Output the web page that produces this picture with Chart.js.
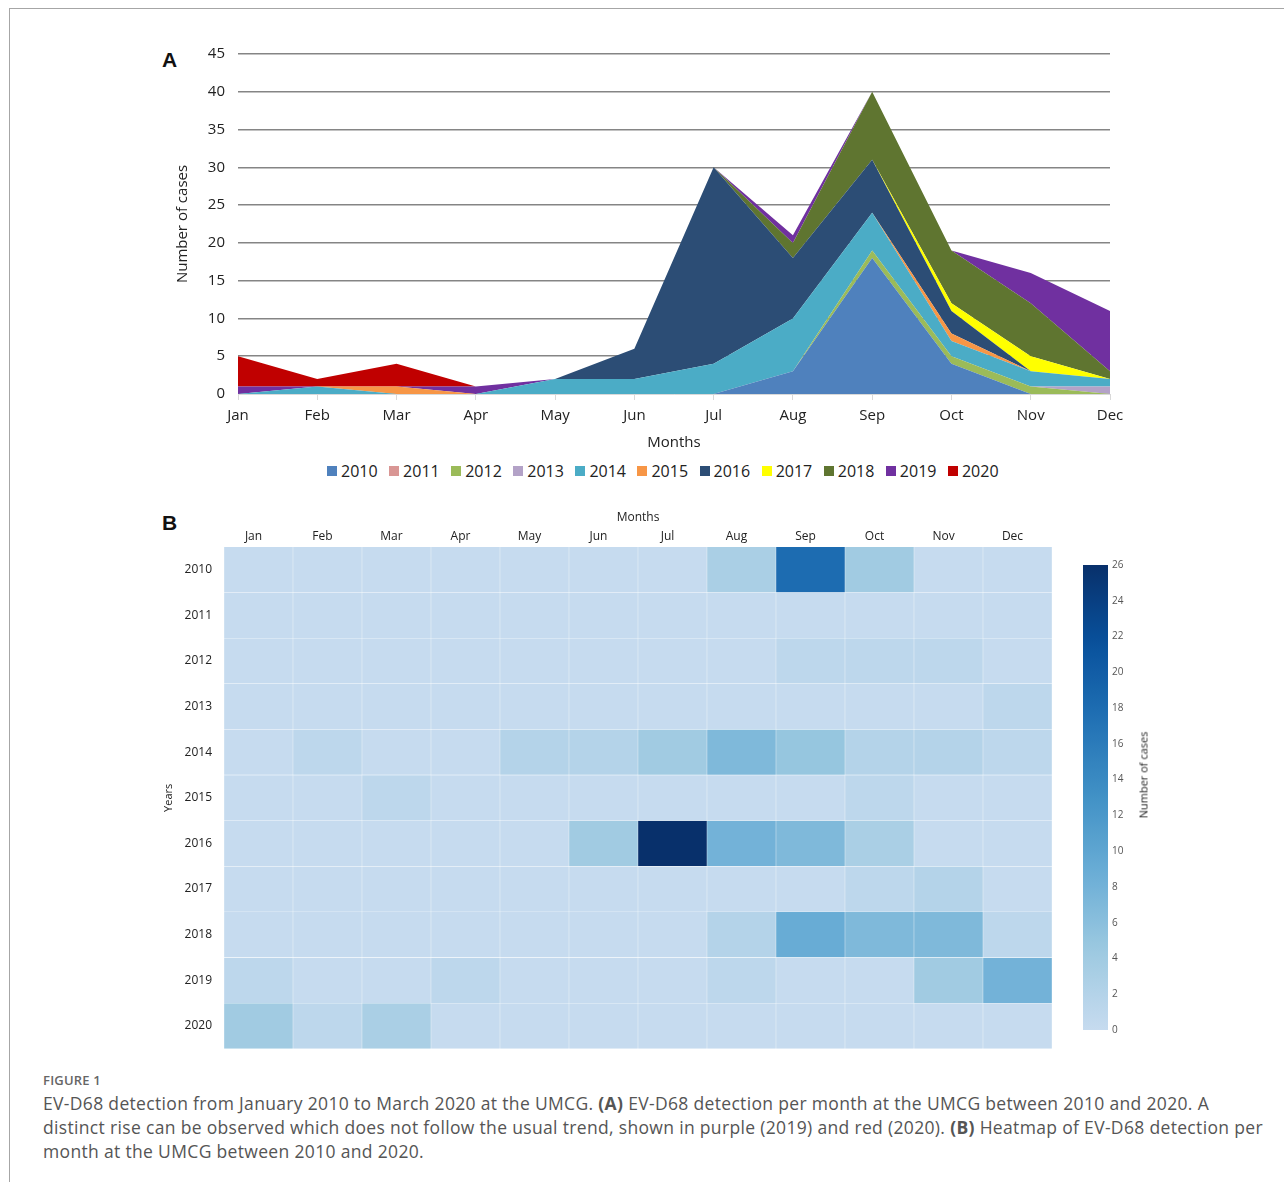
<!DOCTYPE html>
<html>
<head>
<meta charset="utf-8">
<script src="https://cdn.jsdelivr.net/npm/chart.js@4.4.1/dist/chart.umd.min.js"></script>
<style>
  html, body { margin: 0; padding: 0; background: #fff; }
  body { width: 1284px; height: 1182px; position: relative; overflow: hidden; font-family: 'Open Sans', sans-serif; }
  .frame { position: absolute; left: 9px; top: 8px; right: -2px; bottom: -2px; border-top: 1px solid #a6a6a6; border-left: 1px solid #a6a6a6; }
  .panel { position: absolute; font-family: 'Liberation Sans', Arial, sans-serif; font-weight: bold; font-size: 21px; color: #111; }
  .wrap { position: absolute; }
  .legend { position: absolute; left: 327px; top: 461px; height: 20px; display: flex; align-items: center; gap: 11.5px; font-size: 16px; color: #222; white-space: nowrap; }
  .legend .item { display: flex; align-items: center; }
  .legend .box { width: 10px; height: 10px; margin-right: 4px; }
  .cbtitle { position: absolute; left: 1143px; top: 775px; transform: translate(-50%, -50%) rotate(-90deg); font-size: 11px; color: #222; white-space: nowrap; }
  .figlabel { position: absolute; left: 43px; top: 1071px; font-size: 13px; font-weight: 600; color: #666; letter-spacing: 0.2px; }
  .caption { position: absolute; left: 43px; top: 1091px; font-size: 17.5px; letter-spacing: 0.33px; line-height: 24px; color: #555; white-space: nowrap; }
  .caption b { font-weight: 700; color: #555; }
</style>
</head>
<body>
<div class="frame"></div>
<div class="panel" style="left:162px; top:48px;">A</div>
<div class="panel" style="left:162px; top:511px;">B</div>

<div class="wrap" style="left:150px; top:30px; width:1000px; height:426px;"><canvas id="area"></canvas></div>
<div class="legend" id="legend"></div>
<div class="wrap" style="left:150px; top:500px; width:920px; height:568px;"><canvas id="heat"></canvas></div>
<div class="wrap" style="left:1060px; top:540px; width:80px; height:510px;"><canvas id="cbar"></canvas></div>
<div class="cbtitle">Number of cases</div>

<div class="figlabel">FIGURE 1</div>
<div class="caption">EV-D68 detection from January 2010 to March 2020 at the UMCG. <b>(A)</b> EV-D68 detection per month at the UMCG between 2010 and 2020. A<br>distinct rise can be observed which does not follow the usual trend, shown in purple (2019) and red (2020). <b>(B)</b> Heatmap of EV-D68 detection per<br>month at the UMCG between 2010 and 2020.</div>

<script>
// Monthly EV-D68 detections per year
const months = ['Jan', 'Feb', 'Mar', 'Apr', 'May', 'Jun', 'Jul', 'Aug', 'Sep', 'Oct', 'Nov', 'Dec'];
const years = ['2010', '2011', '2012', '2013', '2014', '2015', '2016', '2017', '2018', '2019', '2020'];

const cases2010 = [0, 0, 0, 0, 0, 0, 0, 3, 18, 4, 0, 0];
const cases2011 = [0, 0, 0, 0, 0, 0, 0, 0, 0, 0, 0, 0];
const cases2012 = [0, 0, 0, 0, 0, 0, 0, 0, 1, 1, 1, 0];
const cases2013 = [0, 0, 0, 0, 0, 0, 0, 0, 0, 0, 0, 1];
const cases2014 = [0, 1, 0, 0, 2, 2, 4, 7, 5, 2, 2, 1];
const cases2015 = [0, 0, 1, 0, 0, 0, 0, 0, 0, 1, 0, 0];
const cases2016 = [0, 0, 0, 0, 0, 4, 26, 8, 7, 3, 0, 0];
const cases2017 = [0, 0, 0, 0, 0, 0, 0, 0, 0, 1, 2, 0];
const cases2018 = [0, 0, 0, 0, 0, 0, 0, 2, 9, 7, 7, 1];
const cases2019 = [1, 0, 0, 1, 0, 0, 0, 1, 0, 0, 4, 8];
const cases2020 = [4, 1, 3, 0, 0, 0, 0, 0, 0, 0, 0, 0];

const casesByYear = [cases2010, cases2011, cases2012, cases2013, cases2014, cases2015,
                     cases2016, cases2017, cases2018, cases2019, cases2020];

const yTicksArea = [0, 5, 10, 15, 20, 25, 30, 35, 40, 45];
const colorbarMax = 26;

// Series colours for the stacked areas
const yearColors = ['#4f81bd', '#d99694', '#9bbb59', '#b3a2c7', '#4bacc6', '#f79646',
                    '#2c4d75', '#ffff00', '#5f7530', '#7030a0', '#c00000'];

// Sequential blue scale used by the heatmap and its colour bar
const blueStops = [
  [0.25, [198, 219, 239]], [0.375, [158, 202, 225]], [0.5, [107, 174, 214]],
  [0.625, [66, 146, 198]], [0.75, [33, 113, 181]], [0.875, [8, 81, 156]], [1.0, [8, 48, 107]]
];
function heatColor(v) {
  const t = 0.25 + 0.75 * Math.max(0, Math.min(1, v / colorbarMax));
  for (let i = 1; i < blueStops.length; i++) {
    if (t <= blueStops[i][0]) {
      const [t0, c0] = blueStops[i - 1];
      const [t1, c1] = blueStops[i];
      const f = (t - t0) / (t1 - t0);
      const c = c0.map((a, k) => Math.round(a + (c1[k] - a) * f));
      return `rgb(${c[0]},${c[1]},${c[2]})`;
    }
  }
  const c = blueStops[blueStops.length - 1][1];
  return `rgb(${c[0]},${c[1]},${c[2]})`;
}

// Legend row for the area chart
const legendEl = document.getElementById('legend');
years.forEach((y, i) => {
  const item = document.createElement('div');
  item.className = 'item';
  const box = document.createElement('span');
  box.className = 'box';
  box.style.background = yearColors[i];
  const txt = document.createElement('span');
  txt.textContent = y;
  item.appendChild(box);
  item.appendChild(txt);
  legendEl.appendChild(item);
});

Chart.defaults.font.family = "'Open Sans', sans-serif";
Chart.defaults.color = '#222';
Chart.defaults.animation = false;

// (A) stacked area chart
new Chart(document.getElementById('area'), {
  type: 'line',
  data: {
    labels: months,
    datasets: years.map((y, i) => ({
      label: y,
      data: casesByYear[i],
      backgroundColor: yearColors[i],
      borderColor: 'rgba(0,0,0,0)',
      borderWidth: 0,
      fill: i === 0 ? 'origin' : '-1',
      pointRadius: 0,
      tension: 0
    }))
  },
  options: {
    responsive: true,
    maintainAspectRatio: false,
    layout: { padding: { left: 24, right: 40, top: 24, bottom: 0 } },
    plugins: {
      tooltip: { enabled: false },
      legend: { display: false }
    },
    scales: {
      x: {
        offset: false,
        grid: { display: true, drawOnChartArea: false, drawTicks: true, tickLength: 6, color: '#d9d9d9' },
        border: { display: true, color: '#d9d9d9', width: 1 },
        ticks: { font: { size: 15 }, color: '#222', padding: 7, maxRotation: 0 },
        title: { display: true, text: 'Months', font: { size: 15 }, color: '#222', padding: { top: 2, bottom: 4 } }
      },
      y: {
        stacked: true,
        min: 0,
        max: 45,
        afterBuildTicks: axis => { axis.ticks = yTicksArea.map(v => ({ value: v })); },
        afterFit: axis => { axis.width = 64; },
        grid: {
          drawTicks: false,
          color: ctx => ctx.tick && ctx.tick.value === 0 ? '#d9d9d9' : '#858585',
          lineWidth: 1.6
        },
        border: { display: false },
        ticks: { font: { size: 15 }, color: '#222', padding: 13 },
        title: { display: true, text: 'Number of cases', font: { size: 15 }, color: '#222', padding: 0 }
      }
    }
  }
});

// (B) heatmap: one floating bar per year and month
new Chart(document.getElementById('heat'), {
  type: 'bar',
  data: {
    labels: months,
    datasets: years.map((y, i) => ({
      label: y,
      data: months.map(() => [i, i + 1]),
      backgroundColor: casesByYear[i].map(heatColor),
      borderColor: 'rgba(255,255,255,0.35)',
      borderWidth: 0.5,
      borderSkipped: false,
      grouped: false,
      barPercentage: 1,
      categoryPercentage: 1
    }))
  },
  options: {
    responsive: true,
    maintainAspectRatio: false,
    layout: { padding: { left: 12, right: 18, top: 10, bottom: 4 } },
    plugins: { legend: { display: false }, tooltip: { enabled: false } },
    scales: {
      x: {
        position: 'top',
        grid: { display: false, drawTicks: false },
        border: { display: false },
        ticks: { font: { size: 12 }, color: '#222', padding: 3, maxRotation: 0, labelOffset: -5 },
        title: { display: true, text: 'Months', font: { size: 12 }, color: '#222', padding: { top: 0, bottom: 2 } }
      },
      y: {
        type: 'linear',
        reverse: true,
        min: 0,
        max: years.length,
        afterBuildTicks: axis => { axis.ticks = years.map((_, i) => ({ value: i + 0.5 })); },
        afterFit: axis => { axis.width = 62; },
        grid: { display: false, drawTicks: false },
        border: { display: false },
        ticks: { font: { size: 12 }, color: '#222', padding: 12, autoSkip: false,
                  callback: (v, idx) => years[idx] },
        title: { display: true, text: 'Years', font: { size: 11 }, color: '#222', padding: 0 }
      }
    }
  }
});

// Colour bar for the heatmap scale
new Chart(document.getElementById('cbar'), {
  type: 'bar',
  data: {
    labels: [''],
    datasets: [{
      data: [[0, colorbarMax]],
      backgroundColor: ctx => {
        const chart = ctx.chart;
        const ys = chart.scales.y;
        if (!chart.chartArea || !ys) return heatColor(0);
        const y0 = ys.getPixelForValue(0);
        const y1 = ys.getPixelForValue(colorbarMax);
        const g = chart.ctx.createLinearGradient(0, y0, 0, y1);
        for (let k = 0; k <= 26; k++) g.addColorStop(k / 26, heatColor(colorbarMax * k / 26));
        return g;
      },
      borderWidth: 0,
      barPercentage: 1,
      categoryPercentage: 1
    }]
  },
  options: {
    responsive: true,
    maintainAspectRatio: false,
    layout: { padding: { left: 23, right: 0, top: 25, bottom: 20 } },
    plugins: { legend: { display: false }, tooltip: { enabled: false } },
    scales: {
      x: { display: false },
      y: {
        position: 'right',
        min: 0,
        max: colorbarMax,
        afterFit: axis => { axis.width = 32; },
        grid: { display: false, drawTicks: false },
        border: { display: false },
        ticks: { stepSize: 2, font: { size: 10 }, color: '#555', padding: 4 }
      }
    }
  }
});
</script>
</body>
</html>
